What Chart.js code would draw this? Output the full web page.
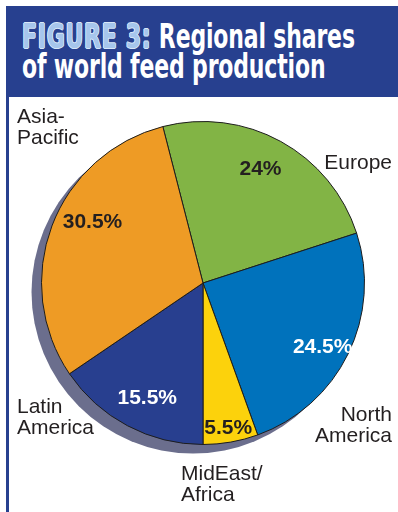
<!DOCTYPE html>
<html>
<head>
<meta charset="utf-8">
<script src="https://cdn.jsdelivr.net/npm/chart.js@4.4.1/dist/chart.umd.min.js"></script>
<style>
    body { margin: 0; width: 398px; height: 512px; background: #fff; position: relative; overflow: hidden; }
    #frame { position: absolute; left: 6px; top: 6px; width: 3px; height: 506px; background: #27408f; }
    #header { position: absolute; left: 6px; top: 6px; width: 392px; height: 91px; background: #27408f; }
    #title { position: absolute; left: 16px; top: 16px; font-family: "Liberation Sans Narrow", "DejaVu Sans Condensed", sans-serif;
        font-weight: bold; font-size: 33px; line-height: 30px; color: #fff; white-space: nowrap;
        transform: scaleX(0.74); transform-origin: 0 0; letter-spacing: -0.2px; }
    #title .fig { color: #a6c6ec; letter-spacing: 1px; text-shadow: 0 0 1px #e8f0fb, 1px 0 0 #d6e6f8, -1px 0 0 #d6e6f8, 0 1px 0 #d6e6f8, 0 -1px 0 #d6e6f8; }
    #wrap { position: absolute; left: 0; top: 0; width: 398px; height: 512px; }
</style>
</head>
<body>
<div id="frame"></div>
<div id="header">
    <div id="title"><span class="fig">FIGURE 3:</span> Regional shares<br>of world feed production</div>
</div>
<div id="wrap"><canvas id="pie-chart"></canvas></div>

<script>
// data
var regions = ['Europe', 'North America', 'MidEast/Africa', 'Latin America', 'Asia-Pacific'];
var shares = [24, 24.5, 5.5, 15.5, 30.5];
var shareLabels = ['24%', '24.5%', '5.5%', '15.5%', '30.5%'];
var colors = ['#82b445', '#0072bc', '#fcd20c', '#283f8f', '#ee9b25'];

// label look per slice (radius fraction, angle nudge in degrees, text color)
var labelPos = [[0.79, -2], [0.84, 2], [0.91, 0], [0.79, -2], [0.78, 8]];
var labelColor = ['#231f20', '#ffffff', '#231f20', '#ffffff', '#231f20'];

// region names outside the pie: [lines, x, baseline, align]
var outside = [
    [['Europe'], 392, 169, 'right'],
    [['North', 'America'], 392, 421, 'right'],
    [['MidEast/', 'Africa'], 181, 480, 'left'],
    [['Latin', 'America'], 17, 413, 'left'],
    [['Asia-', 'Pacific'], 17, 123, 'left']
];

// shadow behind the pie
var shadowPlugin = {
    id: 'shadow',
    beforeDatasetsDraw: function (chart) {
        var arc = chart.getDatasetMeta(0).data[0];
        var ctx = chart.ctx;
        ctx.save();
        ctx.fillStyle = '#6b6e8d';
        ctx.beginPath();
        ctx.arc(arc.x - 10, arc.y + 9, arc.outerRadius, 0, Math.PI * 2);
        ctx.fill();
        ctx.restore();
    }
};

// percent labels and region names
var labelPlugin = {
    id: 'labels',
    afterDatasetsDraw: function (chart) {
        var ctx = chart.ctx;
        var meta = chart.getDatasetMeta(0);
        ctx.save();
        ctx.textAlign = 'center';
        ctx.textBaseline = 'middle';
        ctx.font = 'bold 21px "Liberation Sans", Arial, sans-serif';
        meta.data.forEach(function (arc, i) {
            var mid = (arc.startAngle + arc.endAngle) / 2 + labelPos[i][1] * Math.PI / 180;
            var r = arc.outerRadius * labelPos[i][0];
            ctx.fillStyle = labelColor[i];
            ctx.fillText(shareLabels[i], arc.x + Math.cos(mid) * r, arc.y + Math.sin(mid) * r);
        });

        ctx.font = '21px "Liberation Sans", Arial, sans-serif';
        ctx.fillStyle = '#231f20';
        ctx.textBaseline = 'alphabetic';
        outside.forEach(function (o) {
            ctx.textAlign = o[3];
            o[0].forEach(function (line, j) {
                ctx.fillText(line, o[1], o[2] + j * 21);
            });
        });
        ctx.restore();
    }
};

var ctx = document.getElementById('pie-chart').getContext('2d');
var pieChart = new Chart(ctx, {
    type: 'pie',
    data: {
        labels: regions,
        datasets: [{
            data: shares,
            backgroundColor: colors,
            borderColor: '#1d1d1d',
            borderWidth: 1
        }]
    },
    options: {
        responsive: true,
        maintainAspectRatio: false,
        animation: false,
        rotation: -14.4,
        layout: { padding: { left: 41, right: 33, top: 121, bottom: 67 } },
        plugins: {
            legend: { display: false },
            tooltip: { enabled: false }
        }
    },
    plugins: [shadowPlugin, labelPlugin]
});
</script>
</body>
</html>
